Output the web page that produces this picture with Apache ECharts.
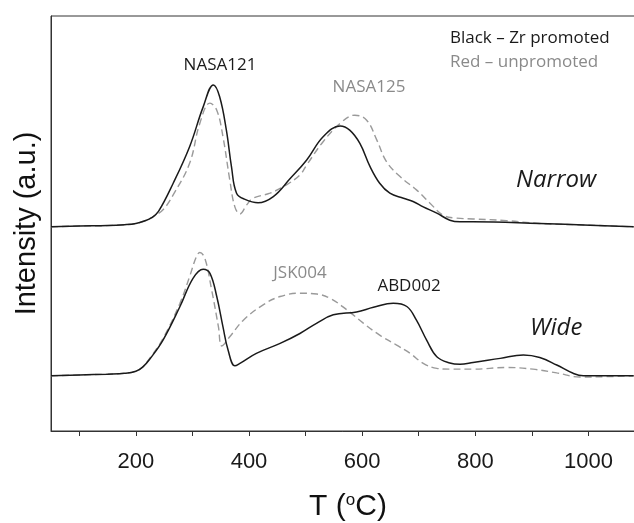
<!DOCTYPE html>
<html>
<head>
<meta charset="utf-8">
<script src="https://cdn.jsdelivr.net/npm/echarts@6/dist/echarts.min.js"></script>
<style>
  html, body { margin: 0; padding: 0; background: #fff; }
  #chart { width: 634px; height: 523px; }
</style>
</head>
<body>
<div id="chart"></div>
<script>
// TPR-like traces, intensity in arbitrary units
var narrowZrT = [50, 100, 150, 180, 200, 215, 228, 240, 266, 295, 319, 337, 348, 360, 369, 378, 393, 416, 443, 472, 502, 531, 561, 578, 596, 614, 631, 649, 673, 690, 708, 732, 755, 773, 796, 914, 1003, 1080];
var narrowZrI = [49.2, 49.4, 49.5, 49.7, 50.0, 50.6, 51.4, 52.9, 59.7, 68.5, 78.1, 83.4, 80.6, 72.5, 63.7, 57.3, 55.8, 55.0, 56.5, 60.7, 65.3, 70.9, 73.5, 72.5, 69.3, 63.7, 59.7, 57.3, 56.1, 55.3, 54.0, 52.5, 50.8, 50.4, 50.4, 50.0, 49.6, 49.2];

var narrowUnT = [50, 100, 150, 180, 200, 215, 230, 248, 266, 295, 313, 331, 343, 354, 366, 375, 384, 396, 407, 437, 466, 490, 502, 531, 561, 587, 608, 626, 643, 667, 696, 720, 743, 767, 796, 855, 914, 1003, 1080];
var narrowUnI = [49.2, 49.4, 49.5, 49.7, 50.0, 50.6, 51.6, 53.3, 56.9, 64.5, 74.1, 79.0, 77.3, 70.9, 60.5, 54.0, 52.3, 54.5, 56.1, 57.3, 59.3, 61.7, 64.1, 69.7, 74.1, 76.1, 74.9, 70.1, 64.9, 61.3, 58.1, 54.9, 52.0, 51.3, 51.1, 50.7, 50.0, 49.6, 49.2];

var wideZrT = [50, 100, 150, 180, 200, 212, 225, 248, 278, 301, 319, 331, 343, 354, 363, 375, 384, 413, 455, 490, 520, 549, 590, 620, 655, 679, 696, 714, 732, 755, 773, 796, 844, 885, 914, 944, 973, 991, 1032, 1080];
var wideZrI = [13.3, 13.5, 13.7, 13.9, 14.4, 15.4, 17.4, 21.9, 30.0, 36.8, 39.0, 38.0, 32.4, 25.1, 19.5, 15.7, 16.3, 18.7, 21.1, 23.5, 26.0, 28.0, 28.7, 29.8, 30.8, 30.0, 26.7, 21.9, 17.9, 16.4, 16.1, 16.5, 17.5, 18.3, 17.7, 15.9, 13.9, 13.3, 13.3, 13.3];

var wideUnT = [50, 100, 150, 180, 200, 212, 225, 248, 278, 295, 307, 313, 322, 334, 346, 352, 366, 390, 425, 455, 490, 520, 543, 573, 602, 631, 661, 685, 708, 732, 755, 796, 855, 902, 944, 985, 1032, 1080];
var wideUnI = [13.3, 13.5, 13.7, 13.9, 14.4, 15.4, 17.6, 22.3, 30.8, 37.2, 42.0, 43.0, 41.6, 34.0, 25.1, 20.5, 22.7, 26.7, 30.4, 32.4, 33.2, 33.0, 32.0, 29.2, 26.0, 23.1, 20.7, 18.7, 16.3, 15.1, 14.9, 14.9, 15.3, 14.9, 14.0, 13.0, 13.1, 13.3];

var tickValues = [100, 200, 300, 400, 500, 600, 700, 800, 900, 1000];
var labelValues = [200, 400, 600, 800, 1000];

function pairs(xs, ys) {
    var out = [];
    for (var i = 0; i < xs.length; i++) out.push([xs[i], ys[i]]);
    return out;
}

var BLACK = '#1a1a1a';
var GREY = '#9a9a9a';
var TXT_GREY = '#8a8a8a';

function solid(name, data) {
    return {
        name: name, type: 'line', data: data, smooth: 0.4, showSymbol: false, z: 3,
        lineStyle: { color: BLACK, width: 1.5 }
    };
}
function dashed(name, data) {
    return {
        name: name, type: 'line', data: data, smooth: 0.4, showSymbol: false, z: 2,
        lineStyle: { color: GREY, width: 1.4, type: [7, 4] }
    };
}

function note(text, x, y, color, opts) {
    opts = opts || {};
    return {
        type: 'text', x: x, y: y, z: 10,
        style: {
            text: text,
            fill: color,
            font: (opts.italic ? 'italic ' : '') + (opts.size || 17) + 'px "Open Sans", "Noto Sans", sans-serif',
            align: opts.align || 'center',
            verticalAlign: 'middle'
        }
    };
}

var chart = echarts.init(document.getElementById('chart'));
var option = {
    animation: false,
    grid: {
        left: 51, top: 16, bottom: 92, right: -11,
        containLabel: false,
        outerBoundsMode: 'none',
        show: true, borderColor: '#333', borderWidth: 1
    },
    xAxis: {
        type: 'value', min: 50, max: 1100,
        name: '{t|T (}{s|o}{t|C)}',
        nameLocation: 'middle', nameGap: 61,
        nameTextStyle: {
            rich: {
                t: { fontSize: 30, fontFamily: '"Liberation Sans", Arial, sans-serif', color: '#111' },
                s: { fontSize: 17, fontFamily: '"Liberation Sans", Arial, sans-serif', color: '#111', verticalAlign: 'top', padding: [0, 0, 12, 0] }
            }
        },
        axisLine: { lineStyle: { color: '#333', width: 1 } },
        axisTick: { show: true, inside: false, length: 5, customValues: tickValues, lineStyle: { color: '#333' } },
        axisLabel: {
            customValues: labelValues, margin: 20,
            formatter: function (v) { return String(v); },
            fontSize: 22, fontFamily: '"Liberation Sans", Arial, sans-serif', color: '#1a1a1a'
        },
        splitLine: { show: false }
    },
    yAxis: {
        type: 'value', min: 0, max: 100,
        name: 'Intensity (a.u.)',
        nameLocation: 'middle', nameGap: 10, nameRotate: 90,
        nameTextStyle: { fontSize: 29, fontFamily: '"Liberation Sans", Arial, sans-serif', color: '#111' },
        axisLine: { show: true, lineStyle: { color: '#333', width: 1 } },
        axisTick: { show: false },
        axisLabel: { show: false },
        splitLine: { show: false }
    },
    series: [
        dashed('Narrow unpromoted', pairs(narrowUnT, narrowUnI)),
        solid('Narrow Zr promoted', pairs(narrowZrT, narrowZrI)),
        dashed('Wide unpromoted', pairs(wideUnT, wideUnI)),
        solid('Wide Zr promoted', pairs(wideZrT, wideZrI))
    ],
    graphic: [
        note('NASA121', 220, 65, BLACK),
        note('NASA125', 369, 87, TXT_GREY),
        note('Black \u2013 Zr promoted', 450, 38, BLACK, { align: 'left' }),
        note('Red \u2013 unpromoted', 450, 62, TXT_GREY, { align: 'left' }),
        note('Narrow', 516, 180, BLACK, { align: 'left', italic: true, size: 24 }),
        note('JSK004', 300, 273, TXT_GREY),
        note('ABD002', 409, 286, BLACK),
        note('Wide', 530, 328, BLACK, { align: 'left', italic: true, size: 24 })
    ]
};
chart.setOption(option);
</script>
</body>
</html>
